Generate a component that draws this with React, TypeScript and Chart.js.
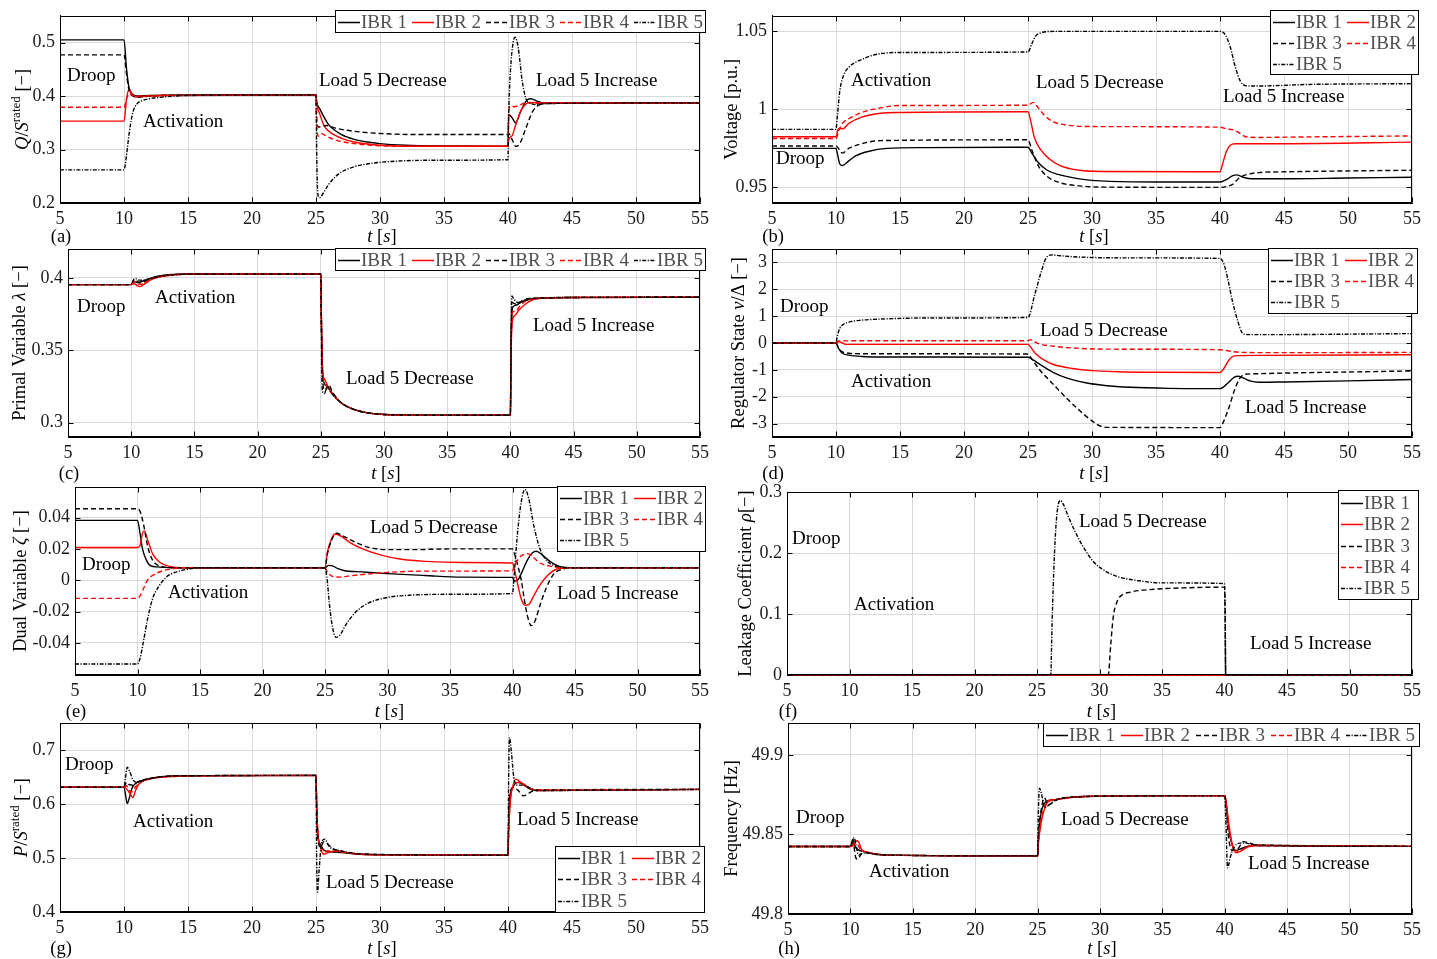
import { useEffect, useRef } from 'react';
import { Chart, registerables } from 'chart.js';

Chart.register(...registerables);

type Pt = [number, number];

const PAGE_W = 1437;
const PAGE_H = 959;
const FONT = '"Liberation Serif", "Times New Roman", serif';

const seriesNames = ['IBR 1', 'IBR 2', 'IBR 3', 'IBR 4', 'IBR 5'];
const timeTicks = [5, 10, 15, 20, 25, 30, 35, 40, 45, 50, 55];

// ---------- (a) Q / S rated ----------
const qIbr1: Pt[] = [[5,0.505],[10,0.505],[10.2,0.45],[10.4,0.415],[10.7,0.403],[11,0.4],[12,0.401],[15,0.402],[25,0.402],[25.05,0.39],[25.3,0.376],[25.6,0.362],[26,0.346],[27,0.328],[28,0.319],[29,0.314],[30,0.311],[32,0.308],[35,0.3065],[40,0.306],[40.05,0.365],[40.3,0.36],[40.6,0.35],[41,0.372],[41.5,0.393],[41.8,0.395],[42.3,0.39],[43,0.387],[55,0.387]];
const qIbr2: Pt[] = [[5,0.353],[10,0.353],[10.2,0.395],[10.4,0.413],[10.6,0.405],[10.9,0.398],[11.5,0.399],[13,0.401],[25,0.402],[25.05,0.387],[25.3,0.366],[25.6,0.346],[26,0.334],[27,0.321],[28,0.314],[30,0.308],[33,0.306],[40,0.306],[40.05,0.318],[40.3,0.325],[40.6,0.346],[41,0.372],[41.4,0.385],[41.8,0.388],[42.5,0.387],[55,0.387]];
const qIbr3: Pt[] = [[5,0.477],[10,0.477],[10.2,0.44],[10.4,0.41],[10.7,0.4],[11,0.398],[12,0.4],[15,0.402],[25,0.402],[25.05,0.36],[25.2,0.342],[25.5,0.343],[25.8,0.345],[26.5,0.34],[28,0.334],[30,0.33],[33,0.328],[40,0.328],[40.05,0.33],[40.3,0.32],[40.6,0.306],[40.9,0.31],[41.4,0.34],[41.9,0.37],[42.4,0.383],[43,0.386],[55,0.387]];
const qIbr4: Pt[] = [[5,0.379],[10,0.379],[10.2,0.395],[10.4,0.405],[10.7,0.401],[11,0.4],[13,0.401],[25,0.402],[25.05,0.35],[25.2,0.325],[25.4,0.33],[25.8,0.325],[26.5,0.318],[28,0.311],[30,0.307],[33,0.306],[40,0.306],[40.05,0.37],[40.2,0.382],[40.5,0.38],[41,0.384],[41.5,0.388],[42,0.387],[55,0.387]];
const qIbr5: Pt[] = [[5,0.262],[10,0.262],[10.2,0.29],[10.4,0.33],[10.7,0.37],[11,0.385],[11.5,0.392],[12,0.395],[13,0.398],[15,0.401],[25,0.402],[25.05,0.3],[25.15,0.215],[25.3,0.21],[25.6,0.22],[26,0.235],[26.5,0.249],[27,0.258],[28,0.268],[29,0.273],[30,0.276],[32,0.279],[35,0.28],[40,0.281],[40.05,0.36],[40.2,0.45],[40.4,0.5],[40.55,0.51],[40.8,0.49],[41.1,0.43],[41.4,0.395],[41.7,0.387],[42.2,0.384],[43,0.386],[55,0.387]];

// ---------- (b) Voltage ----------
const vIbr1: Pt[] = [[5,0.975],[10,0.975],[10.1,0.972],[10.3,0.965],[10.5,0.964],[11,0.967],[11.5,0.97],[12.5,0.973],[14,0.975],[17,0.9755],[25,0.9757],[25.3,0.972],[25.8,0.966],[26.5,0.961],[27.5,0.958],[29,0.9555],[31,0.954],[35,0.9535],[40,0.9535],[40.5,0.955],[41,0.9575],[41.3,0.958],[41.8,0.9565],[42.5,0.9555],[45,0.9555],[50,0.956],[55,0.9565]];
const vIbr2: Pt[] = [[5,0.9825],[10,0.9825],[10.15,0.987],[10.3,0.988],[10.5,0.9875],[11,0.991],[12,0.995],[13.5,0.9975],[15,0.998],[25,0.9985],[25.2,0.993],[25.5,0.982],[26,0.974],[26.7,0.968],[27.5,0.964],[29,0.961],[31,0.9602],[40,0.96],[40.2,0.965],[40.5,0.973],[40.8,0.977],[41.2,0.978],[45,0.978],[55,0.979]];
const vIbr3: Pt[] = [[5,0.9765],[10,0.9765],[10.2,0.975],[10.5,0.972],[11,0.975],[12,0.978],[13.5,0.98],[25,0.9805],[25.3,0.974],[25.8,0.964],[26.5,0.957],[27.5,0.953],[29,0.951],[31,0.9502],[40,0.95],[40.5,0.9505],[41,0.952],[41.5,0.956],[42,0.958],[43,0.9595],[45,0.96],[55,0.961]];
const vIbr4: Pt[] = [[5,0.9813],[10,0.9813],[10.2,0.986],[10.5,0.991],[11,0.994],[12,0.998],[13.5,1.001],[15,1.0025],[25,1.0027],[25.4,1.0045],[25.8,1.001],[26.3,0.996],[27,0.992],[28,0.99],[30,0.989],[40,0.9886],[40.5,0.9875],[41,0.987],[41.5,0.985],[42,0.9825],[43,0.982],[45,0.9822],[55,0.983]];
const vIbr5: Pt[] = [[5,0.9872],[10,0.9872],[10.1,0.995],[10.3,1.012],[10.6,1.022],[11,1.027],[12,1.032],[13,1.035],[15,1.0365],[25,1.0368],[25.3,1.042],[25.6,1.047],[26,1.049],[27,1.05],[40,1.05],[40.4,1.048],[40.8,1.04],[41.2,1.027],[41.6,1.018],[42,1.0152],[43,1.015],[47,1.016],[55,1.0165]];

// ---------- (c) Primal variable ----------
const lIbr1: Pt[] = [[5,0.3954],[10,0.3954],[10.25,0.3975],[10.5,0.3968],[10.8,0.3975],[11.3,0.399],[12,0.401],[13,0.4022],[15,0.4027],[25,0.4027],[25.05,0.37],[25.15,0.333],[25.35,0.326],[25.6,0.324],[26,0.319],[26.7,0.313],[27.5,0.3095],[28.5,0.307],[30,0.3056],[33,0.3051],[40,0.305],[40.05,0.35],[40.15,0.379],[40.4,0.381],[40.8,0.383],[41.5,0.385],[42.5,0.386],[45,0.3865],[55,0.3866]];
const lIbr2: Pt[] = [[5,0.3954],[10,0.3954],[10.25,0.396],[10.5,0.3945],[10.7,0.394],[11,0.3955],[11.5,0.3985],[12.3,0.4008],[13.5,0.4022],[15,0.4027],[25,0.4027],[25.05,0.37],[25.15,0.335],[25.3,0.33],[25.5,0.326],[26,0.319],[26.7,0.313],[27.5,0.3095],[28.5,0.307],[30,0.3056],[33,0.3051],[40,0.305],[40.05,0.345],[40.15,0.37],[40.35,0.374],[40.7,0.378],[41.2,0.382],[41.8,0.385],[42.5,0.386],[45,0.3865],[55,0.3866]];
const lIbr3: Pt[] = [[5,0.3954],[10,0.3954],[10.25,0.399],[10.5,0.3975],[10.8,0.3965],[11.2,0.398],[12,0.4008],[13,0.4022],[15,0.4027],[25,0.4027],[25.05,0.37],[25.15,0.328],[25.35,0.322],[25.6,0.326],[26,0.32],[26.7,0.313],[27.5,0.3095],[28.5,0.307],[30,0.3056],[33,0.3051],[40,0.305],[40.05,0.35],[40.15,0.383],[40.4,0.382],[40.8,0.3835],[41.5,0.3858],[42.5,0.386],[45,0.3865],[55,0.3866]];
const lIbr4: Pt[] = [[5,0.3954],[10,0.3954],[10.25,0.3975],[10.5,0.396],[10.8,0.3955],[11.2,0.3975],[12,0.4005],[13,0.402],[15,0.4027],[25,0.4027],[25.05,0.37],[25.15,0.332],[25.35,0.327],[25.6,0.323],[26,0.319],[26.7,0.313],[27.5,0.3095],[28.5,0.307],[30,0.3056],[33,0.3051],[40,0.305],[40.05,0.35],[40.15,0.376],[40.4,0.377],[40.8,0.381],[41.5,0.3852],[42.5,0.386],[45,0.3865],[55,0.3866]];
const lIbr5: Pt[] = [[5,0.3954],[10,0.3954],[10.2,0.399],[10.35,0.3995],[10.6,0.3985],[11,0.3985],[11.5,0.3995],[12.3,0.401],[13.5,0.4022],[15,0.4027],[25,0.4027],[25.05,0.36],[25.12,0.322],[25.3,0.32],[25.5,0.325],[25.8,0.321],[26.3,0.316],[27,0.3115],[28,0.308],[30,0.3056],[33,0.3051],[40,0.305],[40.05,0.36],[40.12,0.3875],[40.3,0.385],[40.6,0.383],[41.2,0.385],[42,0.386],[45,0.3865],[55,0.3866]];

// ---------- (d) Regulator state ----------
const dIbr1: Pt[] = [[5,0],[10,0],[10.2,-0.2],[10.5,-0.38],[11,-0.45],[12,-0.5],[14,-0.52],[25,-0.53],[25.3,-0.6],[26,-0.82],[27,-1.1],[28,-1.3],[29.5,-1.48],[31,-1.58],[33,-1.65],[36,-1.69],[40,-1.7],[40.3,-1.63],[40.7,-1.45],[41.1,-1.28],[41.4,-1.24],[41.8,-1.3],[42.4,-1.42],[43,-1.46],[45,-1.45],[50,-1.41],[55,-1.36]];
const dIbr2: Pt[] = [[5,0],[10,0],[10.2,0.05],[10.5,0],[10.8,-0.05],[12,-0.05],[25,-0.05],[25.2,-0.15],[25.6,-0.4],[26.2,-0.62],[27,-0.8],[28.5,-0.95],[30,-1.03],[32,-1.07],[35,-1.09],[40,-1.1],[40.3,-0.95],[40.6,-0.7],[40.9,-0.53],[41.3,-0.47],[43,-0.46],[55,-0.44]];
const dIbr3: Pt[] = [[5,0],[10,0],[10.2,-0.2],[10.5,-0.33],[11,-0.38],[12,-0.4],[25,-0.41],[25.3,-0.6],[26,-1.05],[27,-1.55],[28,-2.05],[29,-2.5],[30,-2.9],[30.7,-3.1],[31.3,-3.14],[40,-3.15],[40.3,-2.9],[40.7,-2.4],[41.1,-1.8],[41.5,-1.35],[41.9,-1.17],[42.5,-1.15],[45,-1.12],[50,-1.08],[55,-1.04]];
const dIbr4: Pt[] = [[5,0],[10,0],[10.2,0.08],[25,0.086],[25.2,0.12],[25.5,0.05],[26,-0.05],[27,-0.12],[29,-0.2],[32,-0.23],[40,-0.25],[40.5,-0.28],[41,-0.32],[41.6,-0.35],[45,-0.36],[55,-0.35]];
const dIbr5: Pt[] = [[5,0],[10,0],[10.1,0.25],[10.3,0.55],[10.6,0.7],[11,0.78],[12,0.85],[14,0.9],[17,0.93],[25,0.95],[25.5,1.75],[26,2.6],[26.4,3.15],[26.8,3.28],[27.5,3.25],[29,3.2],[33,3.17],[40,3.15],[40.3,2.95],[40.6,2.4],[41,1.5],[41.4,0.8],[41.7,0.4],[42,0.32],[43,0.31],[55,0.35]];

// ---------- (e) Dual variable ----------
const zIbr1: Pt[] = [[5,0.0382],[10,0.0382],[10.2,0.03],[10.4,0.02],[10.7,0.013],[11,0.0095],[11.5,0.0085],[13,0.008],[25,0.008],[25.3,0.0095],[25.6,0.0092],[26,0.0075],[26.5,0.0062],[28,0.0053],[30,0.0042],[33,0.003],[36,0.002],[40,0.0018],[40.15,-0.0005],[40.4,0],[40.8,0.006],[41.2,0.013],[41.6,0.0175],[41.9,0.0185],[42.4,0.016],[43,0.012],[43.7,0.009],[45,0.008],[55,0.008]];
const zIbr2: Pt[] = [[5,0.0209],[10,0.0209],[10.2,0.022],[10.4,0.03],[10.55,0.0315],[10.8,0.026],[11.2,0.017],[11.7,0.012],[12.5,0.009],[14,0.008],[25,0.008],[25.2,0.018],[25.5,0.026],[25.8,0.0295],[26.3,0.028],[27,0.024],[28,0.02],[29.5,0.016],[31,0.0135],[33,0.012],[36,0.0113],[40,0.011],[40.15,0.007],[40.4,-0.002],[40.7,-0.012],[41,-0.016],[41.3,-0.0155],[41.7,-0.01],[42.2,-0.003],[42.8,0.003],[43.5,0.007],[44.5,0.008],[55,0.008]];
const zIbr3: Pt[] = [[5,0.0456],[10,0.0456],[10.2,0.044],[10.5,0.035],[10.8,0.022],[11.2,0.013],[11.8,0.009],[13,0.008],[25,0.008],[25.2,0.017],[25.5,0.025],[25.9,0.03],[26.5,0.028],[27.5,0.024],[28.5,0.021],[30,0.0195],[32,0.0195],[35,0.02],[40,0.02],[40.15,0.017],[40.4,0.01],[40.7,0],[41,-0.015],[41.3,-0.026],[41.5,-0.029],[41.8,-0.026],[42.2,-0.016],[42.7,-0.005],[43.3,0.004],[44,0.007],[45,0.008],[55,0.008]];
const zIbr4: Pt[] = [[5,-0.0116],[10,-0.0116],[10.2,-0.01],[10.5,-0.005],[10.8,0],[11.2,0.003],[12,0.006],[13,0.0075],[14,0.008],[25,0.008],[25.2,0.005],[25.6,0.0025],[26.2,0.002],[27,0.0028],[28.5,0.004],[30,0.005],[33,0.0058],[40,0.006],[40.15,0.009],[40.5,0.014],[40.9,0.0165],[41.2,0.017],[41.6,0.015],[42.2,0.011],[43,0.009],[44,0.008],[55,0.008]];
const zIbr5: Pt[] = [[5,-0.0535],[10,-0.0535],[10.2,-0.05],[10.5,-0.038],[10.8,-0.025],[11.2,-0.012],[11.7,-0.004],[12.3,0.002],[13,0.005],[14,0.007],[15,0.008],[25,0.008],[25.15,0.002],[25.35,-0.015],[25.6,-0.03],[25.9,-0.0365],[26.2,-0.035],[26.7,-0.028],[27.5,-0.02],[28.5,-0.0145],[30,-0.011],[32,-0.0095],[35,-0.009],[40,-0.0085],[40.15,0.005],[40.4,0.03],[40.7,0.05],[41,0.058],[41.3,0.052],[41.7,0.035],[42.2,0.02],[42.8,0.012],[43.5,0.009],[44.5,0.008],[55,0.008]];

// ---------- (f) Leakage coefficient ----------
const rIbr1: Pt[] = [[5,0],[55,0]];
const rIbr2: Pt[] = [[5,0],[55,0]];
const rIbr3: Pt[] = [[5,0],[30.7,0],[30.9,0.05],[31.1,0.095],[31.4,0.12],[31.8,0.131],[32.5,0.136],[34,0.14],[37,0.143],[40,0.144],[40.05,0.1],[40.1,0],[55,0]];
const rIbr4: Pt[] = [[5,0],[55,0]];
const rIbr5: Pt[] = [[5,0],[26.1,0],[26.2,0.08],[26.4,0.2],[26.6,0.265],[26.85,0.286],[27.1,0.28],[27.5,0.26],[28,0.237],[28.7,0.21],[29.5,0.186],[30.5,0.17],[31.5,0.161],[33,0.155],[35,0.151],[40,0.15],[40.05,0.1],[40.1,0],[55,0]];

// ---------- (g) P / S rated ----------
const pIbr1: Pt[] = [[5,0.631],[10,0.631],[10.1,0.62],[10.25,0.601],[10.4,0.61],[10.6,0.628],[10.9,0.638],[11.5,0.644],[12.5,0.649],[14,0.652],[25,0.653],[25.05,0.6],[25.15,0.54],[25.35,0.525],[25.6,0.515],[26,0.512],[27,0.51],[28.5,0.507],[30,0.506],[40,0.505],[40.05,0.56],[40.15,0.61],[40.4,0.632],[40.8,0.64],[41.2,0.636],[41.7,0.628],[42.2,0.625],[55,0.627]];
const pIbr2: Pt[] = [[5,0.631],[10,0.631],[10.2,0.628],[10.5,0.618],[10.7,0.612],[10.9,0.625],[11.2,0.638],[11.8,0.645],[13,0.65],[15,0.652],[25,0.653],[25.05,0.6],[25.15,0.545],[25.35,0.52],[25.6,0.507],[25.9,0.51],[26.5,0.513],[28,0.508],[30,0.506],[40,0.505],[40.05,0.55],[40.2,0.61],[40.4,0.635],[40.6,0.646],[40.9,0.642],[41.3,0.636],[41.8,0.628],[42.3,0.625],[55,0.627]];
const pIbr3: Pt[] = [[5,0.631],[10,0.631],[10.2,0.64],[10.4,0.636],[10.7,0.635],[11,0.64],[12,0.647],[14,0.652],[25,0.653],[25.05,0.6],[25.15,0.54],[25.35,0.52],[25.6,0.53],[25.8,0.528],[26.3,0.518],[27,0.512],[29,0.507],[40,0.505],[40.05,0.56],[40.15,0.62],[40.4,0.63],[40.8,0.625],[41.2,0.615],[41.6,0.62],[42.2,0.626],[55,0.627]];
const pIbr4: Pt[] = [[5,0.631],[10,0.631],[10.2,0.634],[10.4,0.625],[10.6,0.622],[10.9,0.632],[11.3,0.64],[12,0.646],[13.5,0.651],[15,0.652],[25,0.653],[25.05,0.6],[25.15,0.545],[25.35,0.522],[25.6,0.512],[26,0.513],[26.6,0.512],[28,0.508],[30,0.506],[40,0.505],[40.05,0.55],[40.2,0.612],[40.45,0.633],[40.7,0.64],[41.1,0.637],[41.6,0.63],[42.2,0.626],[55,0.627]];
const pIbr5: Pt[] = [[5,0.631],[10,0.631],[10.1,0.645],[10.25,0.668],[10.45,0.66],[10.7,0.645],[11,0.64],[12,0.647],[14,0.652],[25,0.653],[25.05,0.5],[25.12,0.437],[25.25,0.48],[25.45,0.53],[25.7,0.535],[26,0.522],[27,0.513],[29,0.507],[40,0.505],[40.05,0.65],[40.12,0.723],[40.25,0.7],[40.45,0.65],[40.7,0.635],[41.2,0.635],[41.7,0.63],[42.2,0.625],[55,0.627]];

// ---------- (h) Frequency ----------
const fIbr1: Pt[] = [[5,49.8424],[10,49.8424],[10.2,49.847],[10.4,49.842],[10.7,49.84],[11,49.8395],[12,49.8375],[13,49.837],[25,49.8365],[25.05,49.845],[25.25,49.862],[25.5,49.869],[25.8,49.871],[26.5,49.872],[28,49.8735],[30,49.874],[40,49.8744],[40.1,49.87],[40.3,49.855],[40.6,49.843],[40.9,49.84],[41.3,49.841],[41.8,49.8425],[42.5,49.843],[55,49.8425]];
const fIbr2: Pt[] = [[5,49.8424],[10,49.8424],[10.25,49.843],[10.5,49.846],[10.65,49.8455],[10.9,49.8405],[11.3,49.839],[12,49.8378],[13,49.837],[25,49.8365],[25.05,49.843],[25.3,49.858],[25.55,49.866],[25.85,49.8705],[26.5,49.872],[28,49.8735],[30,49.874],[40,49.8744],[40.1,49.871],[40.35,49.855],[40.65,49.842],[40.9,49.8385],[41.3,49.8395],[41.8,49.842],[42.5,49.843],[55,49.8425]];
const fIbr3: Pt[] = [[5,49.8424],[10,49.8424],[10.2,49.845],[10.45,49.835],[10.6,49.8345],[10.9,49.838],[11.3,49.8385],[12,49.8375],[13,49.837],[25,49.8365],[25.05,49.848],[25.3,49.866],[25.55,49.873],[25.85,49.8685],[26.2,49.87],[26.8,49.8725],[28,49.8735],[30,49.874],[40,49.8744],[40.1,49.868],[40.3,49.848],[40.6,49.84],[41,49.8405],[41.5,49.8455],[42,49.8445],[42.7,49.843],[55,49.8425]];
const fIbr4: Pt[] = [[5,49.8424],[10,49.8424],[10.25,49.844],[10.5,49.8445],[10.8,49.8405],[11.3,49.839],[12,49.8378],[13,49.837],[25,49.8365],[25.05,49.844],[25.3,49.86],[25.55,49.867],[25.85,49.8712],[26.5,49.872],[28,49.8735],[30,49.874],[40,49.8744],[40.1,49.87],[40.35,49.853],[40.65,49.842],[40.95,49.8395],[41.4,49.8405],[41.9,49.8425],[42.5,49.843],[55,49.8425]];
const fIbr5: Pt[] = [[5,49.8424],[10,49.8424],[10.15,49.845],[10.3,49.848],[10.45,49.8435],[10.65,49.837],[10.9,49.838],[11.3,49.8385],[12,49.8377],[13,49.837],[25,49.8365],[25.05,49.86],[25.15,49.879],[25.3,49.876],[25.55,49.867],[25.85,49.868],[26.3,49.871],[27,49.8727],[28,49.8735],[30,49.874],[40,49.8744],[40.08,49.86],[40.22,49.829],[40.45,49.836],[40.75,49.842],[41.2,49.8445],[41.7,49.8445],[42.3,49.8435],[55,49.8425]];

// ---------- styles ----------
const seriesStyles = [
  { color: '#000000', dash: [] as number[] },
  { color: '#ff0000', dash: [] as number[] },
  { color: '#000000', dash: [5, 3] },
  { color: '#ff0000', dash: [5, 3] },
  { color: '#000000', dash: [4, 1.5, 1.2, 1.5] },
];

interface Seg { t: string; it?: boolean; sup?: boolean }
interface LegendCfg { x: number; y: number; w: number; h: number; cols: number; colW: number; rowH: number; off: number }
interface PanelCfg {
  id: string;
  L: number; T: number; R: number; B: number;
  yMin: number; yMax: number; yTicks: number[];
  series: Pt[][];
  yTitle: Seg[]; yTitleX: number;
  label: string; xTitleY: number;
  notes: [string, number, number][];
  legend: LegendCfg;
}

const dashU = '\u2212';
const ratedTitle = (v: string): Seg[] => [{ t: v, it: true }, { t: '/' }, { t: 'S', it: true }, { t: 'rated', sup: true }, { t: ' [' + dashU + ']' }];

const DROOP = 'Droop', ACT = 'Activation', DEC = 'Load 5 Decrease', INC = 'Load 5 Increase';

const panels: PanelCfg[] = [
  { id: 'a', L: 60, T: 12, R: 700, B: 203, yMin: 0.2, yMax: 0.55, yTicks: [0.2, 0.3, 0.4, 0.5],
    series: [qIbr1, qIbr2, qIbr3, qIbr4, qIbr5], yTitle: ratedTitle('Q'), yTitleX: 22, label: '(a)', xTitleY: 236,
    notes: [[DROOP, 67, 76], [ACT, 143, 122], [DEC, 319, 81], [INC, 536, 81]],
    legend: { x: 335, y: 10, w: 371, h: 23, cols: 5, colW: 74, rowH: 21, off: 11.5 } },
  { id: 'b', L: 772, T: 12, R: 1412, B: 203, yMin: 0.94, yMax: 1.06, yTicks: [0.95, 1, 1.05],
    series: [vIbr1, vIbr2, vIbr3, vIbr4, vIbr5], yTitle: [{ t: 'Voltage [p.u.]' }], yTitleX: 731, label: '(b)', xTitleY: 236,
    notes: [[ACT, 851, 81], [DEC, 1036, 83], [INC, 1223, 97], [DROOP, 776, 159]],
    legend: { x: 1270, y: 10, w: 149, h: 65, cols: 2, colW: 74, rowH: 21, off: 11.5 } },
  { id: 'c', L: 68, T: 249, R: 700, B: 437, yMin: 0.29, yMax: 0.42, yTicks: [0.3, 0.35, 0.4],
    series: [lIbr1, lIbr2, lIbr3, lIbr4, lIbr5], yTitle: [{ t: 'Primal Variable ' }, { t: '\u03bb', it: true }, { t: ' [' + dashU + ']' }], yTitleX: 19, label: '(c)', xTitleY: 473,
    notes: [[DROOP, 77, 307], [ACT, 155, 298], [DEC, 346, 379], [INC, 533, 326]],
    legend: { x: 335, y: 248, w: 371, h: 23, cols: 5, colW: 74, rowH: 21, off: 11.5 } },
  { id: 'd', L: 772, T: 249, R: 1412, B: 437, yMin: -3.5, yMax: 3.5, yTicks: [-3, -2, -1, 0, 1, 2, 3],
    series: [dIbr1, dIbr2, dIbr3, dIbr4, dIbr5], yTitle: [{ t: 'Regulator State ' }, { t: 'v', it: true }, { t: '/\u0394 [' + dashU + ']' }], yTitleX: 738, label: '(d)', xTitleY: 473,
    notes: [[DROOP, 780, 307], [DEC, 1040, 331], [ACT, 851, 382], [INC, 1245, 408]],
    legend: { x: 1268, y: 248, w: 150, h: 66, cols: 2, colW: 74, rowH: 21, off: 12 } },
  { id: 'e', L: 75, T: 487, R: 700, B: 675, yMin: -0.0605, yMax: 0.0595, yTicks: [-0.04, -0.02, 0, 0.02, 0.04],
    series: [zIbr1, zIbr2, zIbr3, zIbr4, zIbr5], yTitle: [{ t: 'Dual Variable ' }, { t: '\u03b6', it: true }, { t: ' [' + dashU + ']' }], yTitleX: 20, label: '(e)', xTitleY: 711,
    notes: [[DROOP, 82, 565], [ACT, 168, 593], [DEC, 370, 528], [INC, 557, 594]],
    legend: { x: 557, y: 486, w: 149, h: 66, cols: 2, colW: 74, rowH: 21, off: 12 } },
  { id: 'f', L: 787, T: 492, R: 1412, B: 675, yMin: 0, yMax: 0.3, yTicks: [0, 0.1, 0.2, 0.3],
    series: [rIbr1, rIbr2, rIbr3, rIbr4, rIbr5], yTitle: [{ t: 'Leakage Coefficient ' }, { t: '\u03c1', it: true }, { t: '[' + dashU + ']' }], yTitleX: 745, label: '(f)', xTitleY: 711,
    notes: [[DROOP, 792, 539], [ACT, 854, 605], [DEC, 1079, 522], [INC, 1250, 644]],
    legend: { x: 1338, y: 490, w: 81, h: 110, cols: 1, colW: 80, rowH: 21.3, off: 13 } },
  { id: 'g', L: 60, T: 723, R: 700, B: 912, yMin: 0.4, yMax: 0.75, yTicks: [0.4, 0.5, 0.6, 0.7],
    series: [pIbr1, pIbr2, pIbr3, pIbr4, pIbr5], yTitle: ratedTitle('P'), yTitleX: 21, label: '(g)', xTitleY: 948,
    notes: [[DROOP, 65, 765], [ACT, 133, 822], [DEC, 326, 883], [INC, 517, 820]],
    legend: { x: 555, y: 846, w: 150, h: 67, cols: 2, colW: 74, rowH: 21.5, off: 11.5 } },
  { id: 'h', L: 788, T: 723, R: 1412, B: 914, yMin: 49.8, yMax: 49.92, yTicks: [49.8, 49.85, 49.9],
    series: [fIbr1, fIbr2, fIbr3, fIbr4, fIbr5], yTitle: [{ t: 'Frequency [Hz]' }], yTitleX: 731, label: '(h)', xTitleY: 948,
    notes: [[DROOP, 796, 818], [ACT, 869, 872], [DEC, 1061, 820], [INC, 1248, 864]],
    legend: { x: 1043, y: 723, w: 377, h: 24, cols: 5, colW: 75, rowH: 21, off: 12 } },
];

const Y_AXIS_W = 50;
const X_AXIS_H = 30;
const TICK_SIZE = 18;
const TEXT_SIZE = 19;

function drawRich(ctx: CanvasRenderingContext2D, segs: Seg[], x: number, y: number, size: number, rotate: boolean) {
  const fontFor = (s: Seg) => `${s.it ? 'italic ' : ''}${s.sup ? Math.round(size * 0.68) : size}px ${FONT}`;
  const widths = segs.map((s) => { ctx.font = fontFor(s); return ctx.measureText(s.t).width; });
  const total = widths.reduce((a, b) => a + b, 0);
  ctx.save();
  ctx.translate(x, y);
  if (rotate) ctx.rotate(-Math.PI / 2);
  ctx.fillStyle = '#000';
  ctx.textBaseline = 'alphabetic';
  ctx.textAlign = 'left';
  let cx = -total / 2;
  segs.forEach((s, i) => {
    ctx.font = fontFor(s);
    ctx.fillText(s.t, cx, size * 0.33 + (s.sup ? -size * 0.42 : 0));
    cx += widths[i];
  });
  ctx.restore();
}

function makeDecor(cfg: PanelCfg) {
  return {
    id: 'decor' + cfg.id,
    afterDraw(chart: any) {
      const ctx = chart.ctx as CanvasRenderingContext2D;
      const a = chart.chartArea;
      const xs = chart.scales.x;
      const ys = chart.scales.y;
      ctx.save();
      ctx.strokeStyle = '#000';
      ctx.lineWidth = 1;
      ctx.setLineDash([]);
      const l = Math.round(a.left) + 0.5, r = Math.round(a.right) - 0.5;
      const t = Math.round(a.top) + 0.5, b = Math.round(a.bottom) - 0.5;
      ctx.strokeRect(l, t, r - l, b - t);
      ctx.beginPath();
      for (const tk of xs.ticks) {
        const px = Math.round(xs.getPixelForValue(tk.value)) + 0.5;
        ctx.moveTo(px, b); ctx.lineTo(px, b - 5);
        ctx.moveTo(px, t); ctx.lineTo(px, t + 5);
      }
      for (const tk of ys.ticks) {
        const py = Math.round(ys.getPixelForValue(tk.value)) + 0.5;
        ctx.moveTo(l, py); ctx.lineTo(l + 5, py);
        ctx.moveTo(r, py); ctx.lineTo(r - 5, py);
      }
      ctx.stroke();

      drawRich(ctx, cfg.yTitle, cfg.yTitleX, (a.top + a.bottom) / 2, 18.5, true);
      drawRich(ctx, [{ t: 't', it: true }, { t: ' [' }, { t: 's', it: true }, { t: ']' }], (a.left + a.right) / 2 + 2, cfg.xTitleY, 18.5, false);
      drawRich(ctx, [{ t: cfg.label }], a.left + 1, cfg.xTitleY, 18.5, false);

      ctx.fillStyle = '#000';
      ctx.font = `${TEXT_SIZE}px ${FONT}`;
      ctx.textAlign = 'left';
      ctx.textBaseline = 'middle';
      for (const [txt, nx, ny] of cfg.notes) ctx.fillText(txt, nx, ny);

      const lg = cfg.legend;
      ctx.fillStyle = '#ffffff';
      ctx.fillRect(lg.x, lg.y, lg.w, lg.h);
      ctx.strokeStyle = '#000';
      ctx.lineWidth = 1;
      ctx.strokeRect(lg.x + 0.5, lg.y + 0.5, lg.w - 1, lg.h - 1);
      chart.data.datasets.forEach((ds: any, i: number) => {
        const rr = Math.floor(i / lg.cols), cc = i % lg.cols;
        const x0 = lg.x + 3 + cc * lg.colW;
        const yc = Math.round(lg.y + lg.off + rr * lg.rowH) + 0.5;
        ctx.strokeStyle = ds.borderColor;
        ctx.lineWidth = 1.5;
        ctx.setLineDash(ds.borderDash || []);
        ctx.beginPath();
        ctx.moveTo(x0, yc); ctx.lineTo(x0 + 22, yc);
        ctx.stroke();
        ctx.setLineDash([]);
        ctx.fillStyle = '#505050';
        ctx.font = `${TEXT_SIZE}px ${FONT}`;
        ctx.textBaseline = 'middle';
        ctx.fillText(ds.label, x0 + 23, yc + 1);
      });
      ctx.restore();
    },
  };
}

const fmt = (v: number) => String(parseFloat(Number(v).toFixed(4)));

function Panel({ cfg }: { cfg: PanelCfg }) {
  const ref = useRef<HTMLCanvasElement | null>(null);
  useEffect(() => {
    if (!ref.current) return;
    const chart = new Chart(ref.current, {
      type: 'line',
      data: {
        datasets: cfg.series.map((pts, i) => ({
          label: seriesNames[i],
          data: pts as any,
          borderColor: seriesStyles[i].color,
          borderDash: seriesStyles[i].dash,
          borderWidth: 1.4,
          pointRadius: 0,
          fill: false,
          cubicInterpolationMode: 'monotone' as const,
          order: 4 - i,
          clip: { left: 0, right: 0, top: 2, bottom: 2 } as any,
        })),
      },
      options: {
        animation: false,
        responsive: false,
        maintainAspectRatio: false,
        devicePixelRatio: 1,
        events: [],
        layout: {
          padding: {
            left: cfg.L - Y_AXIS_W,
            top: cfg.T,
            right: PAGE_W - cfg.R,
            bottom: PAGE_H - cfg.B - X_AXIS_H,
          },
        },
        plugins: { legend: { display: false }, tooltip: { enabled: false }, title: { display: false } },
        scales: {
          x: {
            type: 'linear',
            min: 5,
            max: 55,
            afterBuildTicks: (s: any) => { s.ticks = timeTicks.map((v) => ({ value: v })); },
            afterFit: (s: any) => { s.height = X_AXIS_H; },
            grid: { color: '#d9d9d9', lineWidth: 1, drawTicks: false },
            border: { display: true, color: '#000' },
            ticks: { autoSkip: false, maxRotation: 0, padding: 5, color: '#1a1a1a', font: { family: FONT, size: TICK_SIZE }, callback: (v: any) => fmt(v) },
          },
          y: {
            type: 'linear',
            min: cfg.yMin,
            max: cfg.yMax,
            afterBuildTicks: (s: any) => { s.ticks = cfg.yTicks.map((v) => ({ value: v })); },
            afterFit: (s: any) => { s.width = Y_AXIS_W; },
            grid: { color: '#d9d9d9', lineWidth: 1, drawTicks: false },
            border: { display: true, color: '#000' },
            ticks: { padding: 5, color: '#1a1a1a', font: { family: FONT, size: TICK_SIZE }, callback: (v: any) => fmt(v) },
          },
        },
      },
      plugins: [makeDecor(cfg)],
    } as any);
    return () => chart.destroy();
  }, [cfg]);
  return <canvas ref={ref} width={PAGE_W} height={PAGE_H} style={{ position: 'absolute', left: 0, top: 0 }} />;
}

export default function App() {
  return (
    <div style={{ position: 'absolute', left: 0, top: 0, width: PAGE_W, height: PAGE_H, background: '#ffffff' }}>
      {panels.map((p) => <Panel key={p.id} cfg={p} />)}
    </div>
  );
}
